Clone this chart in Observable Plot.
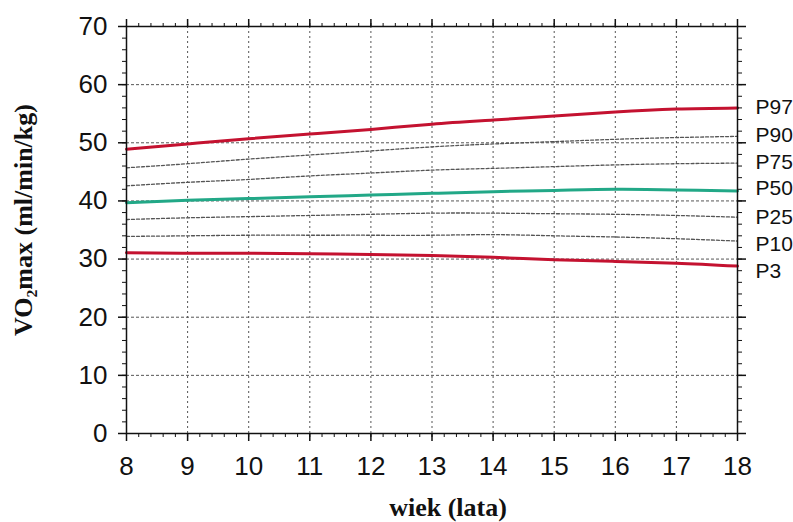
<!DOCTYPE html>
<html>
<head>
<meta charset="utf-8">
<script src="https://cdn.jsdelivr.net/npm/d3@7"></script>
<script src="https://cdn.jsdelivr.net/npm/@observablehq/plot@0.6"></script>
<style>
  html, body { margin: 0; padding: 0; background: #fff; }
  #chart svg { display: block; }
</style>
</head>
<body>
<div id="chart"></div>
<script>
const ages = [8, 9, 10, 11, 12, 13, 14, 15, 16, 17, 18];
const p97 = [48.9, 49.8, 50.7, 51.5, 52.3, 53.2, 53.9, 54.6, 55.3, 55.8, 56.0];
const p90 = [45.7, 46.4, 47.2, 47.9, 48.6, 49.3, 49.8, 50.2, 50.6, 50.9, 51.1];
const p75 = [42.6, 43.2, 43.7, 44.3, 44.8, 45.3, 45.6, 45.9, 46.2, 46.4, 46.5];
const p50 = [39.7, 40.1, 40.4, 40.7, 41.0, 41.3, 41.6, 41.8, 42.0, 41.9, 41.7];
const p25 = [36.8, 37.1, 37.3, 37.5, 37.7, 37.9, 37.9, 37.8, 37.7, 37.5, 37.2];
const p10 = [33.9, 34.0, 34.1, 34.1, 34.1, 34.1, 34.2, 34.0, 33.8, 33.5, 33.1];
const p3  = [31.1, 31.0, 31.0, 30.9, 30.8, 30.6, 30.3, 29.9, 29.6, 29.3, 28.8];

const labelNames = ["P97", "P90", "P75", "P50", "P25", "P10", "P3"];
const labelY = [56.1, 51.3, 46.7, 42.1, 37.2, 32.6, 27.9];

const xTicks = [8, 9, 10, 11, 12, 13, 14, 15, 16, 17, 18];
const yTicks = [0, 10, 20, 30, 40, 50, 60, 70];
const xMinor = d3.range(80, 181, 2).map(v => v / 10);
const yMinor = d3.range(0, 71, 2);

const xTitle = "wiek (lata)";
const yTitle = "VO\u2082max (ml/min/kg)";

const toRows = (vals) => ages.map((a, i) => ({age: a, v: vals[i]}));
const dotted = [p90, p75, p25, p10];
const red = "#c41230";
const green = "#22a887";
const labels = labelNames.map((t, i) => ({t, y: labelY[i]}));

const noText = () => "";
const tickFont = "Liberation Sans, Arial, Helvetica, sans-serif";
const serif = "Liberation Serif, Times New Roman, serif";

const plot = Plot.plot({
  width: 793,
  height: 522,
  marginLeft: 126,
  marginRight: 56,
  marginTop: 26,
  marginBottom: 89,
  style: {fontFamily: tickFont, fontSize: "26px", color: "#111", background: "#fff"},
  x: {domain: [8, 18]},
  y: {domain: [0, 70]},
  marks: [
    Plot.gridX(xTicks, {stroke: "#555", strokeOpacity: 1, strokeDasharray: "2,3", strokeWidth: 1}),
    Plot.gridY(yTicks, {stroke: "#555", strokeOpacity: 1, strokeDasharray: "3,2", strokeWidth: 1}),
    ...dotted.map(vals => Plot.line(toRows(vals), {x: "age", y: "v", stroke: "#555", strokeWidth: 1.3, strokeDasharray: "3,2", curve: "natural"})),
    Plot.line(toRows(p97), {x: "age", y: "v", stroke: red, strokeWidth: 3, curve: "natural"}),
    Plot.line(toRows(p3), {x: "age", y: "v", stroke: red, strokeWidth: 3, curve: "natural"}),
    Plot.line(toRows(p50), {x: "age", y: "v", stroke: green, strokeWidth: 3, curve: "natural"}),
    Plot.frame({stroke: "#111", strokeWidth: 1.5}),
    // bottom axis
    Plot.axisX(xTicks, {anchor: "bottom", tickSize: 8, tickPadding: 15, strokeWidth: 1.5, label: null, fontSize: 26}),
    Plot.axisX(xMinor, {anchor: "bottom", tickSize: 4, tickFormat: noText, label: null, strokeWidth: 1}),
    // top axis
    Plot.axisX(xTicks, {anchor: "top", tickSize: 8, tickFormat: noText, label: null, strokeWidth: 1.5}),
    Plot.axisX(xMinor, {anchor: "top", tickSize: 4, tickFormat: noText, label: null, strokeWidth: 1}),
    // left axis
    Plot.axisY(yTicks, {anchor: "left", tickSize: 8, tickPadding: 11, strokeWidth: 1.5, label: null, fontSize: 26}),
    Plot.axisY(yMinor, {anchor: "left", tickSize: 4, tickFormat: noText, label: null, strokeWidth: 1}),
    // right axis
    Plot.axisY(yTicks, {anchor: "right", tickSize: 8, tickFormat: noText, label: null, strokeWidth: 1.5}),
    Plot.axisY(yMinor, {anchor: "right", tickSize: 4, tickFormat: noText, label: null, strokeWidth: 1}),
    // percentile labels
    Plot.text(labels, {x: () => 18, y: "y", text: "t", dx: 18, textAnchor: "start", fontSize: 21, fill: "#111"}),
    // axis titles
    Plot.text([xTitle], {frameAnchor: "bottom", dx: 16, dy: 74, fontFamily: serif, fontWeight: "bold", fontSize: 26, fill: "#111", textAnchor: "middle", lineAnchor: "middle"}),
    Plot.text([yTitle], {frameAnchor: "left", dx: -103, dy: -10, rotate: -90, fontFamily: serif, fontWeight: "bold", fontSize: 26, fill: "#111", textAnchor: "middle", lineAnchor: "middle"})
  ]
});
document.getElementById("chart").appendChild(plot);
</script>
</body>
</html>
